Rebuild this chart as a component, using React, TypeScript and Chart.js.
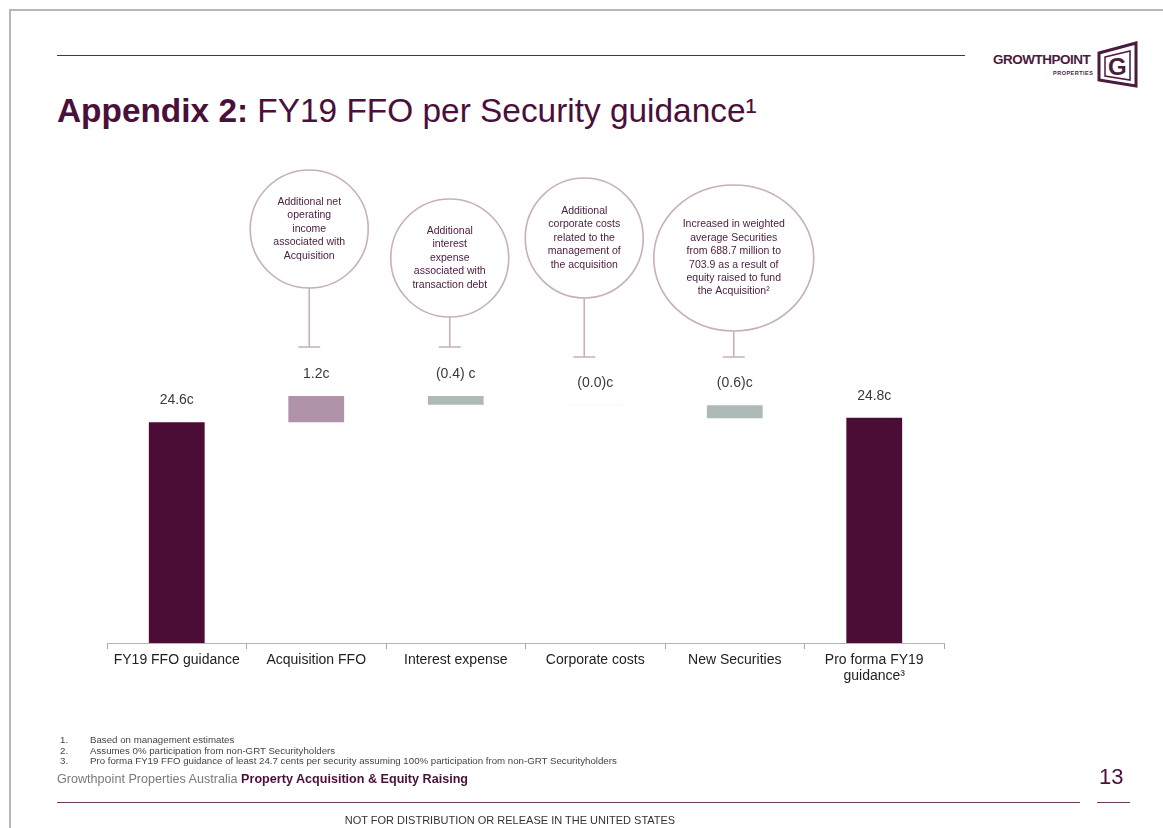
import React, { useEffect, useRef } from "react";
import { Chart, registerables } from "chart.js";

Chart.register(...registerables);

// ---------- data ----------
const categories: string[][] = [
  ["FY19 FFO guidance"],
  ["Acquisition FFO"],
  ["Interest expense"],
  ["Corporate costs"],
  ["New Securities"],
  ["Pro forma FY19", "guidance³"],
];
const startValue = 24.6;
const changes = [1.2, -0.4, -0.02, -0.6];
const endValue = 24.8;
const valueLabels = ["24.6c", "1.2c", "(0.4) c", "(0.0)c", "(0.6)c", "24.8c"];
const barColors = ["#4b0c35", "#b093a8", "#adbab8", "#eeeeee", "#adbab8", "#4b0c35"];
const bubbleTexts: string[][] = [
  ["Additional net", "operating", "income", "associated with", "Acquisition"],
  ["Additional", "interest", "expense", "associated with", "transaction debt"],
  ["Additional", "corporate costs", "related to the", "management of", "the acquisition"],
  ["Increased in weighted", "average Securities", "from 688.7 million to", "703.9 as a result of", "equity raised to fund", "the Acquisition²"],
];
const footnotes = [
  "Based on management estimates",
  "Assumes 0% participation from non-GRT Securityholders",
  "Pro forma FY19 FFO guidance of least 24.7 cents per security assuming 100% participation from non-GRT Securityholders",
];
const Y_MIN = 14.5;
const Y_MAX = 36;

// ---------- styles ----------
const PURPLE = "#4a0f3a";
const FONT = "'Liberation Sans', Arial, Helvetica, sans-serif";
const bubbleGeom = [
  { dx: -7, cy: 229, rx: 59, ry: 59, stem: 347 },
  { dx: -6, cy: 258, rx: 59, ry: 59, stem: 347 },
  { dx: -11, cy: 238, rx: 59, ry: 60, stem: 357 },
  { dx: -1, cy: 258, rx: 80, ry: 73, stem: 357 },
];

function buildFloating(): [number, number][] {
  const out: [number, number][] = [[Y_MIN, startValue]];
  let run = startValue;
  for (const c of changes) {
    out.push([run, run + c]);
    run += c;
  }
  out.push([Y_MIN, endValue]);
  return out;
}

const overlayPlugin = {
  id: "overlay",
  afterDatasetsDraw(chart: any) {
    const ctx = chart.ctx as CanvasRenderingContext2D;
    const meta = chart.getDatasetMeta(0);
    const xScale = chart.scales.x;
    ctx.save();
    // value labels
    ctx.font = `14px ${FONT}`;
    ctx.fillStyle = "#3a3a3a";
    ctx.textAlign = "center";
    ctx.textBaseline = "middle";
    meta.data.forEach((el: any, i: number) => {
      const top = Math.min(el.y, el.base);
      ctx.fillText(valueLabels[i], el.x, top - 22);
    });
    // bubbles
    bubbleTexts.forEach((lines, k) => {
      const g = bubbleGeom[k];
      const cx = xScale.getPixelForValue(k + 1) + g.dx;
      ctx.strokeStyle = "#c6afc0";
      ctx.lineWidth = 1.6;
      ctx.beginPath();
      ctx.ellipse(cx, g.cy, g.rx, g.ry, 0, 0, Math.PI * 2);
      ctx.stroke();
      ctx.beginPath();
      ctx.moveTo(cx, g.cy + g.ry);
      ctx.lineTo(cx, g.stem);
      ctx.moveTo(cx - 11, g.stem);
      ctx.lineTo(cx + 11, g.stem);
      ctx.stroke();
      ctx.fillStyle = "#4a1a3f";
      ctx.font = `10.5px ${FONT}`;
      const lh = 13.4;
      const y0 = g.cy - ((lines.length - 1) * lh) / 2;
      lines.forEach((t, j) => ctx.fillText(t, cx, y0 + j * lh));
    });
    ctx.restore();
  },
};

function WaterfallChart() {
  const ref = useRef<HTMLCanvasElement>(null);
  useEffect(() => {
    if (!ref.current) return;
    const chart = new Chart(ref.current, {
      type: "bar",
      data: {
        labels: categories,
        datasets: [
          {
            data: buildFloating() as any,
            backgroundColor: barColors,
            borderWidth: 0,
            categoryPercentage: 1,
            barPercentage: 0.4,
          },
        ],
      },
      options: {
        animation: false,
        responsive: false,
        maintainAspectRatio: false,
        layout: { padding: { left: 107, right: 219, top: 173, bottom: 135 } },
        plugins: { legend: { display: false }, tooltip: { enabled: false } },
        scales: {
          y: { display: false, min: Y_MIN, max: Y_MAX },
          x: {
            afterFit: (s: any) => {
              s.height = 50;
            },
            grid: {
              display: true,
              drawOnChartArea: false,
              offset: true,
              tickLength: 6,
              color: "#a8a8a8",
            },
            border: { color: "#b5b5b5" },
            ticks: {
              color: "#222",
              padding: 3,
              font: { family: FONT, size: 14, lineHeight: 1.15 },
              maxRotation: 0,
              autoSkip: false,
            },
          },
        },
      },
      plugins: [overlayPlugin],
    });
    return () => chart.destroy();
  }, []);
  return (
    <canvas
      ref={ref}
      width={1163}
      height={828}
      style={{ position: "absolute", left: 0, top: 0, width: 1163, height: 828 }}
    />
  );
}

function Logo() {
  return (
    <div style={{ position: "absolute", left: 990, top: 36, width: 150, height: 52 }}>
      <div
        style={{
          position: "absolute",
          left: 3,
          top: 16,
          fontFamily: FONT,
          fontWeight: 700,
          fontSize: 13.5,
          letterSpacing: -0.5,
          color: "#4a1a3f",
        }}
      >
        GROWTHPOINT
      </div>
      <div
        style={{
          position: "absolute",
          left: 63,
          top: 34,
          fontFamily: FONT,
          fontWeight: 700,
          fontSize: 5.5,
          letterSpacing: 0.5,
          color: "#4a1a3f",
        }}
      >
        PROPERTIES
      </div>
      <svg style={{ position: "absolute", left: 106, top: 4 }} width={44} height={48}>
        <polygon points="3,13 40,3 40,46 3,40" fill="none" stroke="#4a1a3f" strokeWidth={3} />
        <polygon points="9,17 34,11 34,40 9,36" fill="none" stroke="#4a1a3f" strokeWidth={1.5} />
        <text x={12} y={35} fontFamily={FONT} fontWeight={700} fontSize={24} fill="#4a1a3f">
          G
        </text>
      </svg>
    </div>
  );
}

export default function App() {
  const abs = (s: React.CSSProperties): React.CSSProperties => ({ position: "absolute", ...s });
  return (
    <div style={abs({ left: 0, top: 0, width: 1163, height: 828, background: "#fff", overflow: "hidden", fontFamily: FONT })}>
      {/* slide frame */}
      <div style={abs({ left: 9, top: 9, width: 1160, height: 830, borderTop: "2px solid #b8b8b8", borderLeft: "2px solid #b8b8b8" })} />
      {/* top rule */}
      <div style={abs({ left: 57, top: 55, width: 908, height: 1, background: "#5a2a4a" })} />
      <Logo />
      {/* title */}
      <div style={abs({ left: 57, top: 92, fontSize: 33.4, color: PURPLE, whiteSpace: "nowrap", lineHeight: "38px" })}>
        <span style={{ fontWeight: 700 }}>Appendix 2:</span> FY19 FFO per Security guidance¹
      </div>
      <WaterfallChart />
      {/* footnotes */}
      {footnotes.map((t, i) => (
        <div key={i} style={abs({ left: 60, top: 734 + i * 10.5, fontSize: 9.7, color: "#444", whiteSpace: "nowrap", lineHeight: "11px" })}>
          <span style={{ display: "inline-block", width: 30 }}>{i + 1}.</span>
          {t}
        </div>
      ))}
      <div style={abs({ left: 57, top: 771, fontSize: 12.6, color: "#7a7a7a", whiteSpace: "nowrap", lineHeight: "16px" })}>
        Growthpoint Properties Australia{" "}
        <span style={{ fontWeight: 700, color: PURPLE }}>Property Acquisition &amp; Equity Raising</span>
      </div>
      <div style={abs({ left: 1099, top: 764, fontSize: 22, color: PURPLE, lineHeight: "26px" })}>13</div>
      <div style={abs({ left: 1097, top: 802, width: 33, height: 1, background: "#6a3a5a" })} />
      <div style={abs({ left: 57, top: 802, width: 1023, height: 1, background: "#6a3a5a" })} />
      <div style={abs({ left: 0, top: 813, width: 1020, textAlign: "center", fontSize: 11, color: "#333", lineHeight: "14px" })}>
        NOT FOR DISTRIBUTION OR RELEASE IN THE UNITED STATES
      </div>
    </div>
  );
}
